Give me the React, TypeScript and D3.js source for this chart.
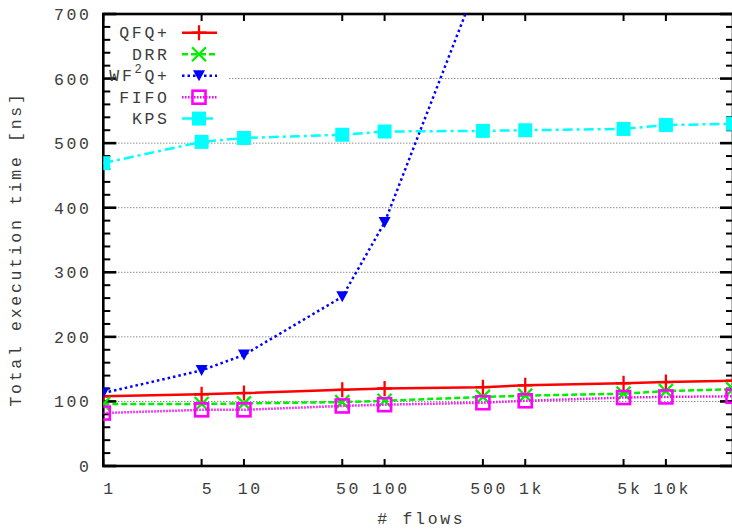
import React from 'react';
import * as d3 from 'd3';

// number of flows (x positions)
const flows = [1, 5, 10, 50, 100, 500, 1000, 5000, 10000, 30000];

// total execution time [ns] per scheduler
const qfq = [108, 111, 113, 118, 120, 122, 125, 128, 130, 132];
const drr = [96, 96, 97, 99, 101, 107, 109, 112, 116, 119];
const wf2q = [113, 148, 172, 262, 377, 770, null, null, null, null];
const fifo = [82, 87, 87, 93, 95, 98, 101, 106, 107, 108];
const kps = [469, 502, 508, 513, 518, 519, 520, 522, 528, 530];

const xTickValues = [1, 5, 10, 50, 100, 500, 1000, 5000, 10000];
const xTickLabels = ['1', '5', '10', '50', '100', '500', '1k', '5k', '10k'];
const yMajor = [0, 100, 200, 300, 400, 500, 600, 700];

const W = 732, H = 529;
const left = 103.3, right = 733, top = 14, bottom = 466;

const FONT = '"Liberation Mono", monospace';
const fs = 16.5;
const ls = 2.7;
const TXT = '#3c3c3c';

const series = [
  { name: 'QFQ+', values: qfq, color: '#ff0000', dash: null, marker: 'plus' },
  { name: 'DRR', values: drr, color: '#00ee00', dash: '6,3', marker: 'x' },
  { name: 'WF2Q+', values: wf2q, color: '#0000ff', dash: '2.5,3', marker: 'tri' },
  { name: 'FIFO', values: fifo, color: '#ff00ff', dash: '1.5,1.5', marker: 'sq' },
  { name: 'KPS', values: kps, color: '#00ffff', dash: '10,4,3,4', marker: 'fsq' },
];

function Marker({ type, x, y, color }: { type: string; x: number; y: number; color: string }) {
  if (type === 'plus') {
    return <path d={`M${x - 7.5},${y}H${x + 7.5}M${x},${y - 7.5}V${y + 7.5}`} stroke={color} strokeWidth={2.3} fill="none" />;
  }
  if (type === 'x') {
    return <path d={`M${x - 7},${y - 7}L${x + 7},${y + 7}M${x - 7},${y + 7}L${x + 7},${y - 7}`} stroke={color} strokeWidth={2.3} fill="none" />;
  }
  if (type === 'tri') {
    return <path d={`M${x - 6},${y - 5.5}L${x + 6},${y - 5.5}L${x},${y + 5.5}Z`} fill={color} />;
  }
  if (type === 'sq') {
    return <rect x={x - 6.5} y={y - 6.5} width={13} height={13} stroke={color} strokeWidth={2.6} fill="none" />;
  }
  return <rect x={x - 7} y={y - 7} width={14} height={14} fill={color} />;
}

export default function App() {
  const x = d3.scaleLog().domain([1, 30000]).range([left, right]);
  const y = d3.scaleLinear().domain([0, 700]).range([bottom, top]);
  const yMinor = d3.range(0, 701, 20).filter((v) => v % 100 !== 0);

  const legendY = [32.7, 54.2, 75.7, 97.2, 118.6];

  return (
    <svg width={W} height={H} style={{ position: 'absolute', left: 0, top: 0 }} fontFamily={FONT} fontSize={fs}>
      <defs>
        <clipPath id="plot">
          <rect x={left} y={top} width={right - left} height={bottom - top} />
        </clipPath>
      </defs>
      <rect width={W} height={H} fill="#fff" />

      {/* grid */}
      {yMajor.slice(1, -1).map((v) => (
        <line key={v} x1={left} x2={right} y1={y(v)} y2={y(v)} stroke="#555" strokeWidth={1} strokeDasharray="1,2" />
      ))}

      {/* opaque key box */}
      <rect x={104} y={21} width={125} height={108} fill="#fff" />

      {/* border */}
      <rect x={left} y={top} width={right - left} height={bottom - top} fill="none" stroke="#000" strokeWidth={2.6} />

      {/* y ticks */}
      {yMajor.map((v) => (
        <g key={v}>
          <line x1={left} x2={left + 13} y1={y(v)} y2={y(v)} stroke="#000" strokeWidth={2.6} />
          <line x1={right - 13} x2={right} y1={y(v)} y2={y(v)} stroke="#000" strokeWidth={2.6} />
          <text x={89 + ls} y={y(v) + 6} textAnchor="end" fill={TXT} letterSpacing={ls}>{v}</text>
        </g>
      ))}
      {yMinor.map((v) => (
        <g key={v}>
          <line x1={left} x2={left + 7} y1={y(v)} y2={y(v)} stroke="#000" strokeWidth={2} />
          <line x1={right - 7} x2={right} y1={y(v)} y2={y(v)} stroke="#000" strokeWidth={2} />
        </g>
      ))}

      {/* x ticks */}
      {xTickValues.map((v, i) => (
        <g key={v}>
          <line x1={x(v)} x2={x(v)} y1={bottom} y2={bottom - 7} stroke="#000" strokeWidth={2} />
          <line x1={x(v)} x2={x(v)} y1={top} y2={top + 7} stroke="#000" strokeWidth={2} />
          <text x={x(v) + 5 + ls / 2} y={494} textAnchor="middle" fill={TXT} letterSpacing={ls}>{xTickLabels[i]}</text>
        </g>
      ))}

      {/* axis titles */}
      <text x={420 + ls / 2} y={524} textAnchor="middle" fill={TXT} letterSpacing={ls}># flows</text>
      <text transform="translate(21,249) rotate(-90)" textAnchor="middle" fill={TXT} letterSpacing={ls}>Total execution time [ns]</text>

      {/* data */}
      <g clipPath="url(#plot)">
        {series.map((s) => {
          const line = d3.line<number | null>()
            .defined((d) => d !== null)
            .x((_, i) => x(flows[i]))
            .y((d) => y(d as number));
          return (
            <g key={s.name}>
              <path d={line(s.values) || ''} fill="none" stroke={s.color} strokeWidth={2.5} strokeDasharray={s.dash || undefined} />
              {s.values.map((v, i) => v === null ? null : (
                <Marker key={i} type={s.marker} x={x(flows[i])} y={y(v)} color={s.color} />
              ))}
            </g>
          );
        })}
      </g>

      {/* legend */}
      {series.map((s, i) => (
        <g key={s.name}>
          <text x={167 + ls} y={legendY[i] + 5.5} textAnchor="end" fill={TXT} letterSpacing={ls}>
            {s.name === 'WF2Q+' ? (
              <>
                WF<tspan dy={-8} fontSize={12}>2</tspan><tspan dy={8}>Q+</tspan>
              </>
            ) : s.name}
          </text>
          <line x1={182} x2={217} y1={legendY[i]} y2={legendY[i]} stroke={s.color} strokeWidth={2.5} strokeDasharray={s.dash || undefined} />
          <Marker type={s.marker} x={199} y={legendY[i]} color={s.color} />
        </g>
      ))}
    </svg>
  );
}
